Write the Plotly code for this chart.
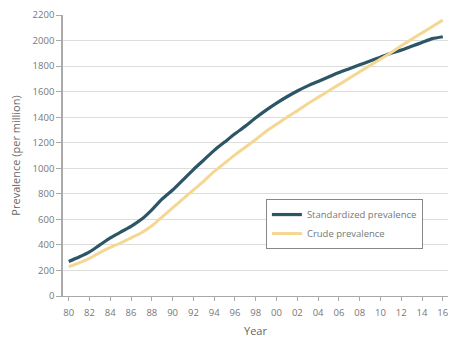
import plotly.graph_objects as go

years = list(range(1980, 2017))
standardized = [270, 305, 345, 400, 455, 500, 545, 600, 675, 760, 830, 910, 990, 1065, 1140, 1205, 1270, 1330, 1395, 1455, 1510, 1560, 1605, 1645, 1680, 1715, 1750, 1780, 1810, 1840, 1870, 1900, 1925, 1955, 1985, 2015, 2030]
crude = [230, 260, 295, 340, 380, 415, 455, 495, 550, 620, 690, 760, 830, 900, 975, 1040, 1105, 1165, 1225, 1290, 1345, 1400, 1450, 1505, 1555, 1605, 1655, 1705, 1755, 1805, 1855, 1905, 1960, 2010, 2060, 2110, 2160]
xtick_vals = list(range(1980, 2017, 2))
xtick_text = [str(y)[2:] for y in xtick_vals]
ytick_vals = list(range(0, 2201, 200))

fig = go.Figure()
fig.add_trace(go.Scatter(x=years, y=standardized, mode="lines", name="Standardized prevalence",
                         line=dict(color="#2c5566", width=3.2, shape="spline", smoothing=0.6)))
fig.add_trace(go.Scatter(x=years, y=crude, mode="lines", name="Crude prevalence",
                         line=dict(color="#f4d791", width=3.0, shape="spline", smoothing=0.6)))

fig.update_layout(
    width=472, height=342,
    margin=dict(l=63, r=24, t=15, b=46),
    paper_bgcolor="white", plot_bgcolor="white",
    font=dict(family="Open Sans, sans-serif", color="#666666", size=10),
    showlegend=True,
    legend=dict(x=0.527, y=0.345, xanchor="left", yanchor="top",
                bordercolor="#888888", borderwidth=1, bgcolor="white",
                font=dict(size=9.5, color="#777777"), tracegroupgap=0,
                itemwidth=30),
)
fig.update_xaxes(range=[1979.45, 2016.5], tickmode="array", tickvals=xtick_vals, ticktext=xtick_text,
                 showline=True, linecolor="#aaaaaa", linewidth=1, ticks="outside", ticklen=4,
                 tickcolor="#aaaaaa", showgrid=False, zeroline=False, ticklabelstandoff=4,
                 automargin=False,
                 title=dict(text="Year", font=dict(size=11, color="#666666"), standoff=8),
                 tickfont=dict(size=9.5, color="#777777"))
fig.update_yaxes(range=[0, 2200], tickmode="array", tickvals=ytick_vals,
                 showline=True, linecolor="#aaaaaa", linewidth=1.5, ticks="outside", ticklen=5,
                 tickcolor="#aaaaaa", showgrid=True, gridcolor="#dddddd", gridwidth=1, zeroline=False,
                 automargin=False,
                 title=dict(text="Prevalence (per million)", font=dict(size=11, color="#666666"), standoff=10),
                 tickfont=dict(size=9.5, color="#777777"))

fig.write_html("out.html")
